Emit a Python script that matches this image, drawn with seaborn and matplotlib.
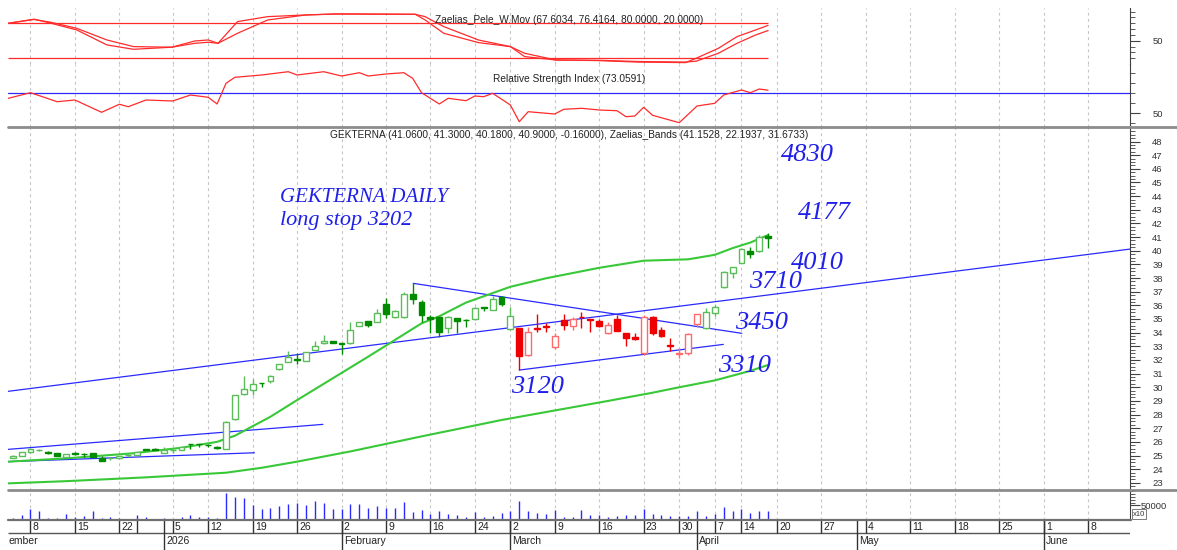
import matplotlib
matplotlib.use("Agg")
import matplotlib.pyplot as plt
from matplotlib.lines import Line2D
import numpy as np
import pandas as pd
import seaborn as sns

# ---- daily bars, trading-day index 0 = 4 Dec 2025 ----
opens = [24.82, 24.96, 25.25, 25.40, 25.22, 25.15, 24.92, 25.15, 25.10, 25.20,
         24.80, 24.79, 24.80, 25.01, 25.01, 25.45, 25.46, 25.20, 25.40, 25.40,
         25.82, 25.82, 25.77, 25.64, 25.50, 27.65, 29.50, 29.77, 30.30, 30.48,
         31.31, 31.85, 32.10, 31.95, 32.73, 33.22, 33.39, 33.25, 33.22, 34.49,
         34.83, 34.78, 36.12, 35.12, 35.12, 36.83, 36.27, 35.12, 35.12, 34.31,
         35.05, 34.95, 34.97, 35.86, 35.66, 36.59, 34.24, 34.31, 32.36, 34.36,
         34.45, 32.92, 34.92, 34.48, 35.17, 34.98, 34.88, 33.99, 34.97, 33.95,
         33.70, 32.48, 35.17, 34.19, 33.10, 32.46, 32.53, 34.63, 34.31, 35.46,
         37.32, 38.40, 39.13, 40.00, 40.00, 41.06]
highs = [25.05, 25.28, 25.55, 25.50, 25.33, 25.17, 25.10, 25.25, 25.22, 25.22,
         24.97, 24.88, 25.00, 25.10, 25.25, 25.48, 25.52, 25.60, 25.45, 25.62,
         25.84, 25.84, 25.85, 25.66, 27.55, 29.45, 30.82, 30.60, 30.32, 30.88,
         31.70, 32.65, 32.53, 32.57, 33.39, 33.83, 33.42, 33.26, 34.80, 34.80,
         34.85, 35.70, 36.51, 35.63, 37.00, 37.62, 36.39, 35.29, 35.15, 35.20,
         35.07, 34.97, 35.85, 35.87, 36.68, 36.68, 35.85, 34.33, 34.44, 35.34,
         34.69, 33.95, 35.34, 35.17, 35.53, 35.00, 34.97, 34.80, 35.29, 33.97,
         33.95, 35.29, 35.20, 34.38, 33.58, 32.85, 33.99, 35.36, 35.78, 36.02,
         38.50, 38.80, 40.20, 40.25, 41.15, 41.30]
lows = [24.80, 24.94, 25.22, 25.33, 25.12, 24.98, 24.90, 25.05, 24.88, 24.86,
        24.58, 24.70, 24.78, 24.92, 25.00, 25.40, 25.38, 25.18, 25.22, 25.38,
        25.45, 25.60, 25.65, 25.50, 25.45, 27.60, 29.40, 29.40, 30.04, 30.30,
        31.30, 31.84, 31.70, 31.93, 32.72, 33.20, 33.25, 32.40, 33.20, 34.47,
        34.40, 34.76, 35.05, 35.10, 35.10, 36.10, 34.80, 33.95, 33.65, 34.00,
        33.95, 34.44, 34.95, 35.62, 35.64, 35.95, 34.22, 31.26, 32.30, 34.07,
        34.07, 32.77, 34.19, 34.19, 34.31, 34.07, 34.40, 33.90, 34.10, 33.02,
        33.46, 32.36, 33.80, 33.65, 32.68, 32.12, 32.36, 34.39, 34.29, 35.22,
        37.30, 37.98, 39.10, 39.50, 39.90, 40.18]
closes = [25.00, 25.25, 25.50, 25.40, 25.20, 25.00, 25.08, 25.14, 25.09, 24.86,
          24.60, 24.80, 25.00, 25.02, 25.23, 25.44, 25.44, 25.40, 25.40, 25.60,
          25.81, 25.81, 25.76, 25.52, 27.45, 29.40, 29.87, 30.24, 30.28, 30.85,
          31.68, 32.19, 32.00, 32.55, 32.99, 33.39, 33.27, 33.20, 34.22, 34.78,
          34.53, 35.41, 35.40, 35.58, 36.81, 36.47, 35.29, 34.98, 34.07, 35.12,
          34.85, 34.90, 35.78, 35.83, 36.49, 36.10, 35.22, 32.29, 34.07, 34.26,
          34.43, 33.75, 34.53, 34.97, 35.12, 34.96, 34.48, 34.56, 34.14, 33.58,
          33.56, 35.17, 33.95, 33.75, 33.05, 32.52, 33.90, 35.34, 35.53, 35.85,
          38.47, 38.78, 40.10, 39.76, 41.03, 40.90]
# colour of each bar: g = green, r = red
regime = "g" * 57 + "r" * 21 + "g" * 8

volume = [6000, 14300, 38000, 32000, 6000, 6000, 20000, 8300, 12000, 28600,
          6000, 8300, 4800, 2400, 16700, 8300, 1200, 6000, 3000, 8300,
          14300, 8300, 8300, 6000, 94000, 82000, 77400, 50000, 38000, 41700,
          46400, 53600, 59500, 50000, 64300, 59500, 38000, 38000, 53600, 53600,
          41700, 46400, 41700, 40500, 61900, 26200, 34500, 20200, 29800, 20200,
          14300, 8300, 26200, 9500, 12000, 22600, 32000, 64300, 32000, 22600,
          20200, 34500, 8300, 8300, 34500, 14300, 14300, 10700, 11900, 14300,
          14300, 35700, 21400, 15500, 11900, 11900, 11900, 29800, 11900, 17900,
          45200, 32100, 36900, 22600, 32100, 32100]

# Zaelias bands (upper and middle line), read at these bar positions
upper_x = [-0.5, 6, 13.5, 19, 23, 25, 29, 32, 36, 40, 43, 46, 48, 51, 56, 60, 66, 71, 76, 79, 81, 83, 85]
upper_y = [24.55, 24.79, 25.16, 25.57, 26.0, 26.45, 27.84, 29.06, 30.65, 32.24, 33.46, 34.68,
           35.2, 36.2, 37.36, 37.98, 38.75, 39.27, 39.37, 39.7, 40.19, 40.6, 41.15]
mid_x = [-0.5, 6, 15, 24, 28, 32, 38, 46, 55, 61, 67, 72, 75, 79, 83, 85]
mid_y = [22.96, 23.12, 23.4, 23.74, 24.1, 24.55, 25.3, 26.4, 27.6, 28.3, 29.0, 29.6, 30.0,
         30.5, 31.2, 31.63]

# Zaelias_Pele_W.Mov
zp_x = [-0.5, 2.4, 4.2, 7.2, 10.6, 13.6, 17.9, 20.5, 22, 23.1, 25.3, 28.7, 33, 36.5, 45.3,
        46.4, 48.5, 52.4, 56, 57.6, 61.1, 66, 70.3, 75.7, 76.9, 79.4, 81.5, 83.6, 85]
zp_fast = [80, 87, 80.5, 68.6, 42.9, 35.4, 39, 49.7, 51.4, 45.7, 82.9, 91.4, 94.3, 96, 95.4,
           85.7, 62.9, 46.9, 40, 22.9, 17.1, 16, 13.5, 12.6, 20, 37.1, 57.1, 68.6, 76.42]
zp_slow = [80, 86.5, 82, 71.4, 51.4, 40, 39, 45.7, 47.5, 45.7, 62.9, 85.7, 94.3, 96, 95.4,
           91.4, 74.3, 51.4, 40, 28.6, 17.1, 16.5, 14.5, 13.5, 15, 28.6, 45.7, 60, 67.60]

# Relative Strength Index
rsi_x = [-0.5, 2, 5, 7, 10, 12, 13, 15, 18, 20, 22, 23, 24, 25, 28, 31, 32, 35, 37, 39, 40,
         42, 44, 45, 46, 48, 49, 51, 52, 53, 54, 56, 57, 58, 61, 62, 64, 66, 68, 69, 70, 71,
         72, 75, 77, 79, 80, 82, 83, 84, 85]
rsi_y = [65, 70.6, 61.6, 63.3, 51, 59, 56.6, 63.3, 62.3, 68.3, 66, 59.3, 80, 86, 88.3, 91.6,
         88.3, 91.6, 87.3, 90.6, 87.3, 89.3, 90.6, 85, 70.6, 59.3, 65, 62.6, 67.3, 66.6, 70,
         58.3, 41.6, 51.6, 49.3, 54, 55, 53.3, 52.6, 46.6, 47.3, 56, 48, 40.6, 57.3, 60, 68.3,
         73.3, 70.6, 74.3, 73.06]

# hand-drawn trend lines (bar position, price) pairs
trend_x = [(-0.53, 125.72), (-0.53, 34.9), (-0.53, 27.2), (45.08, 82.03), (57.0, 79.96)]
trend_y = [(29.7, 40.12), (25.45, 27.28), (24.55, 25.2), (37.61, 33.95), (31.26, 33.14)]

# notes written on the chart
notes = ["GEKTERNA DAILY", "long stop 3202", "4830", "4177", "4010", "3710", "3450", "3120", "3310"]
note_x = [30.1, 30.1, 89.4, 91.3, 90.6, 85.8, 84.3, 59.1, 82.4]
note_y = [43.93, 42.25, 47.01, 42.76, 39.1, 37.71, 34.70, 30.01, 31.55]
note_size = [15, 16, 19, 19, 19, 19, 19, 19, 19]
note_ha = ["left", "left", "center", "center", "center", "center", "center", "center", "center"]

# date axis (the December name is cut at the left edge in the original)
week_idx = [2, 7, 12, 18, 22, 27, 32, 37, 42, 47, 52, 56, 61, 66, 71, 75, 79, 82, 86, 91, 96,
            101, 106, 111, 116, 121]
week_lbl = ["8", "15", "22", "5", "12", "19", "26", "2", "9", "16", "24", "2", "9", "16", "23",
            "30", "7", "14", "20", "27", "4", "11", "18", "25", "1", "8"]
month_idx = [-3, 17, 37, 56, 77, 95, 116]
month_lbl = ["ember", "2026", "February", "March", "April", "May", "June"]

price_title = "GEKTERNA (41.0600, 41.3000, 40.1800, 40.9000, -0.16000), Zaelias_Bands (41.1528, 22.1937, 31.6733)"
zp_title = "Zaelias_Pele_W.Mov (67.6034, 76.4164, 80.0000, 20.0000)"
rsi_title = "Relative Strength Index (73.0591)"

sns.set_style("white")
plt.rcParams["font.family"] = ["Liberation Sans", "DejaVu Sans"]

W, H = 1177, 550
XL = (-0.53, 125.72)
RED = "#ff2b2b"
BLUE = "#2a2aff"
GRID = "#c4c4c4"
fig = plt.figure(figsize=(W / 100, H / 100), dpi=100)


def panel(y0, y1):
    a = fig.add_axes([8 / W, 1 - y1 / H, 1122 / W, (y1 - y0) / H])
    a.set_facecolor("none")
    a.set_xlim(XL)
    a.set_xticks([])
    for s in ["top", "left", "bottom"]:
        a.spines[s].set_visible(False)
    a.spines["right"].set_color("#404040")
    a.yaxis.tick_right()
    a.tick_params(axis="y", which="both", direction="out", colors="#404040",
                  labelcolor="#333333", labelsize=6.8)
    a.tick_params(axis="y", which="major", length=7, pad=9)
    a.tick_params(axis="y", which="minor", length=3.5)
    for wx in week_idx:
        a.axvline(wx, color=GRID, lw=0.8, ls=(0, (2.5, 3)), zorder=0)
    return a


# ---- Zaelias_Pele_W.Mov panel ----
ax_zp = panel(8, 64)
ax_zp.set_ylim(10.2, 106.2)
ax_zp.hlines([80, 20], XL[0], 85, color=RED, lw=0.9)
sns.lineplot(x=zp_x, y=zp_fast, ax=ax_zp, color=RED, lw=0.9, estimator=None)
sns.lineplot(x=zp_x, y=zp_slow, ax=ax_zp, color=RED, lw=0.9, estimator=None)
ax_zp.set_yticks([50])
ax_zp.set_yticks([20, 30, 40, 60, 70, 80, 90, 100], minor=True)
ax_zp.text(0.5, 0.786, zp_title, transform=ax_zp.transAxes, ha="center", va="center",
           fontsize=7.3, color="#222222")

# ---- RSI panel ----
ax_rsi = panel(64, 126.5)
ax_rsi.set_ylim(36.8, 99.3)
ax_rsi.axhline(70, color=BLUE, lw=0.9)
sns.lineplot(x=rsi_x, y=rsi_y, ax=ax_rsi, color=RED, lw=0.9, estimator=None)
ax_rsi.set_yticks([50])
ax_rsi.set_yticks([40, 60, 70, 80, 90], minor=True)
ax_rsi.text(0.5, 0.76, rsi_title, transform=ax_rsi.transAxes, ha="center", va="center",
            fontsize=7.3, color="#222222")

# ---- price panel ----
ax = panel(126.5, 489.5)
ax.set_ylim(22.51, 49.10)
ax.set_yticks(range(23, 49))
ax.set_yticks(np.arange(22.75, 49.0, 0.25), minor=True)

for (x0, x1), (y0, y1) in zip(trend_x, trend_y):
    ax.plot([x0, x1], [y0, y1], color=BLUE, lw=0.9, zorder=2)

bands = pd.concat([
    pd.DataFrame({"bar": upper_x, "price": upper_y, "line": "upper"}),
    pd.DataFrame({"bar": mid_x, "price": mid_y, "line": "mid"}),
])
sns.lineplot(data=bands, x="bar", y="price", units="line", estimator=None,
             color="#38c838", lw=1.5, ax=ax, zorder=2)

o, h, l, c = map(np.array, (opens, highs, lows, closes))
for i in range(len(o)):
    up = c[i] >= o[i]
    if regime[i] == "g":
        fill, edge = ("white", "#5abd5a") if up else ("#008a00", "#008a00")
    else:
        fill, edge = ("white", "#ff6a6a") if up else ("#ee0000", "#ee0000")
    ax.vlines(i, l[i], h[i], color=edge, lw=1, zorder=3)
    ax.bar(i, max(abs(c[i] - o[i]), 0.03), bottom=min(o[i], c[i]), width=0.66,
           color=fill, edgecolor=edge, lw=1, zorder=4)

for t, nx, ny, fs, ha in zip(notes, note_x, note_y, note_size, note_ha):
    ax.text(nx, ny, t, fontsize=fs, ha=ha, va="center", color="#2020e8",
            family=["Liberation Serif", "DejaVu Serif"], style="italic", zorder=5)

ax.text(0.5, 0.9766, price_title, transform=ax.transAxes, ha="center", va="center",
        fontsize=7.3, color="#222222")

# ---- volume panel ----
ax_v = panel(489.5, 519.5)
ax_v.set_ylim(0, 107000)
ax_v.vlines(range(len(volume)), 0, volume, color=BLUE, lw=1)
ax_v.set_yticks([50000])
ax_v.set_yticklabels(["50000"])
ax_v.set_yticks([60000, 70000, 80000, 90000, 100000], minor=True)
ax_v.tick_params(axis="y", which="major", length=7, pad=1)
fig.text(1133 / W, 1 - 514 / H, "x10", fontsize=5.5, va="center", ha="left", color="#333333",
         bbox=dict(boxstyle="square,pad=0.15", fc="white", ec="#666666", lw=0.6))

for a in (ax_zp, ax_rsi, ax, ax_v):
    a.set_xlabel("")
    a.set_ylabel("")

# ---- date axis ----
ad = fig.add_axes([8 / W, 0, 1122 / W, 30.5 / H])
ad.set_xlim(XL)
ad.set_ylim(30.5, 0)
ad.axis("off")
ad.hlines(13.5, XL[0], XL[1], color="#555555", lw=1)
ad.vlines(week_idx + [14], 0, 13.5, color="#333333", lw=1)
ad.vlines(month_idx, 0, 30.5, color="#333333", lw=1)
for xi, t in zip(week_idx, week_lbl):
    ad.text(xi + 0.25, 7.3, t, fontsize=7.5, ha="left", va="center", color="#222222")
for xi, t in zip(month_idx, month_lbl):
    ad.text(max(xi + 0.25, XL[0] + 0.05), 21.5, t, fontsize=7.5, ha="left", va="center",
            color="#222222")

# grey separators between panels
for yy, x_end, lw, col in [(126.5, 1.0, 2.0, "#8c8c8c"), (489.5, 1.0, 2.0, "#8c8c8c"),
                           (519.5, 1131 / W, 1.6, "#707070")]:
    fig.add_artist(Line2D([8 / W, x_end], [1 - yy / H, 1 - yy / H], color=col, lw=lw,
                          transform=fig.transFigure))

fig.savefig("out.png", dpi=100)
